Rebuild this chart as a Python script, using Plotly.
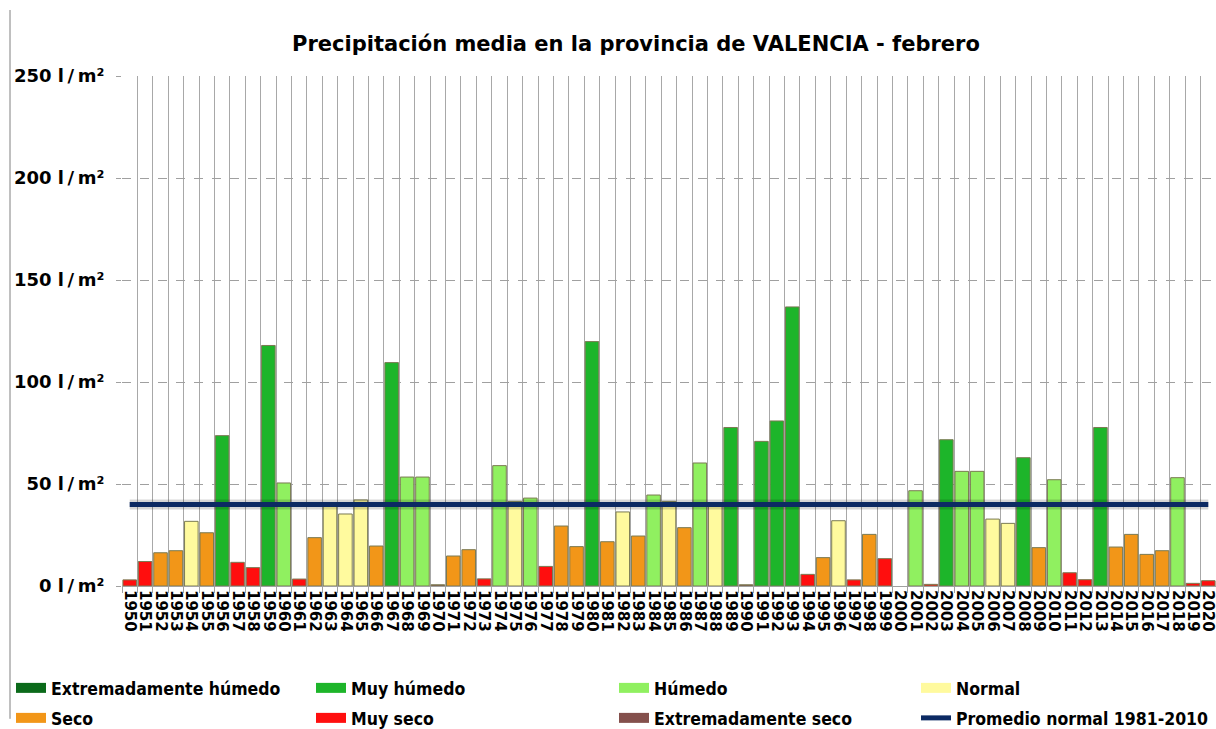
import plotly.graph_objects as go

years = list(range(1950, 2021))
values = [3, 12, 16.3, 17.3, 31.7, 26.1, 73.7, 11.6, 9.0, 117.9,
          50.5, 3.4, 23.7, 39.5, 35.3, 42.2, 19.6, 109.5, 53.4, 53.4,
          0.6, 14.7, 17.8, 3.5, 59.0, 41.5, 43.1, 9.6, 29.4, 19.3,
          119.8, 21.7, 36.3, 24.5, 44.6, 41.5, 28.6, 60.3, 39.8, 77.7,
          0.6, 70.9, 80.9, 136.8, 5.7, 13.9, 32.0, 3.0, 25.3, 13.4,
          None, 46.7, 0.8, 71.7, 56.2, 56.2, 32.8, 30.7, 62.9, 18.8,
          52.1, 6.5, 3.1, 77.7, 19.1, 25.3, 15.5, 17.3, 53.1, 1.3,
          2.6]
classes = ["MS", "MS", "S", "S", "N", "S", "MH", "MS", "MS", "MH",
           "H", "MS", "S", "N", "N", "N", "S", "MH", "H", "H",
           "ES", "S", "S", "MS", "H", "N", "H", "MS", "S", "S",
           "MH", "S", "N", "S", "H", "N", "S", "H", "N", "MH",
           "ES", "MH", "MH", "MH", "MS", "S", "N", "MS", "S", "MS",
           None, "H", "MS", "MH", "H", "H", "N", "N", "MH", "S",
           "H", "MS", "MS", "MH", "S", "S", "S", "S", "H", "MS",
           "MS"]
promedio = 40.0
promedio_name = "Promedio normal 1981-2010"

class_keys = ["EH", "MH", "H", "N", "S", "MS", "ES"]
class_names = {"EH": "Extremadamente húmedo", "MH": "Muy húmedo", "H": "Húmedo",
               "N": "Normal", "S": "Seco", "MS": "Muy seco", "ES": "Extremadamente seco"}
class_colors = {"EH": "#0b6a1a", "MH": "#1db52a", "H": "#90f060", "N": "#fffa9e",
                "S": "#f29618", "MS": "#ff0e0e", "ES": "#84504c"}
line_color = "#0c2a63"

y_ticks = [0, 50, 100, 150, 200, 250]
y_labels = [f"{v} l\u2009/\u2009m²" for v in y_ticks]

# legend layout: 4 columns x 2 rows (pixel positions in the page)
legend_cols = [11, 311, 614, 916]
legend_rows = [688, 718]

fig = go.Figure()
for k in class_keys:
    xs = [y for y, c in zip(years, classes) if c == k]
    vs = [v for v, c in zip(values, classes) if c == k]
    fig.add_trace(go.Bar(
        x=xs, y=vs, name=class_names[k], width=0.88, showlegend=False,
        marker=dict(color=class_colors[k], line=dict(color="#7a7a52", width=1)),
    ))

# shadow of the average line
fig.add_trace(go.Scatter(x=[years[0], years[-1]], y=[promedio, promedio], mode="lines",
                         line=dict(color="rgba(0,0,0,0.16)", width=10),
                         showlegend=False, hoverinfo="skip"))
fig.add_trace(go.Scatter(x=[years[0], years[-1]], y=[promedio, promedio], mode="lines",
                         name=promedio_name, showlegend=False,
                         line=dict(color=line_color, width=5)))

# legend entries (one small legend per entry, to reproduce the 4x2 grid)
legend_font = dict(family="DejaVu Sans Condensed, DejaVu Sans", size=17.5, color="#000000",
                   weight="bold")
entries = [(class_names[k], class_colors[k], 11) for k in class_keys] + \
          [(promedio_name, line_color, 5)]
legends = {}
for i, (name, color, w) in enumerate(entries):
    lid = "legend" if i == 0 else f"legend{i + 1}"
    fig.add_trace(go.Scatter(x=[None], y=[None], mode="lines", name=name,
                             line=dict(color=color, width=w), legend=lid,
                             hoverinfo="skip"))
    legends[lid] = dict(xref="container", yref="container",
                        x=legend_cols[i % 4] / 1216, y=1 - legend_rows[i // 4] / 729,
                        xanchor="left", yanchor="middle", font=legend_font,
                        bgcolor="rgba(0,0,0,0)", itemwidth=30)

fig.update_layout(
    width=1216, height=729,
    paper_bgcolor="white", plot_bgcolor="white",
    margin=dict(l=122, r=0, t=76, b=143, autoexpand=False),
    barmode="overlay",
    title=dict(text="<b>Precipitación media en la provincia de VALENCIA - febrero</b>",
               x=0.523, xref="container", xanchor="center", y=1 - 44 / 729, yanchor="middle",
               font=dict(family="DejaVu Sans", size=21, color="#000000")),
    xaxis=dict(type="linear", range=[1949.5, 2020.5], tickmode="array", automargin=False,
               tickvals=years, ticktext=[str(y) for y in years], tickangle=90,
               ticklabeloverflow="allow",
               tickfont=dict(family="DejaVu Sans", size=15, color="#000000", weight="bold"),
               showgrid=False, ticks="", showline=True, linecolor="#a0a0a0", linewidth=1,
               zeroline=False,
               minor=dict(tick0=1949.5, dtick=1, showgrid=True, gridcolor="#a8a8a8",
                          gridwidth=1, ticks="outside", ticklen=6, tickcolor="#a0a0a0")),
    yaxis=dict(range=[0, 250], tickmode="array", tickvals=y_ticks, ticktext=y_labels,
               automargin=False, ticklabelstandoff=8,
               tickfont=dict(family="DejaVu Sans", size=18, color="#000000", weight="bold"),
               showgrid=True, gridcolor="#a0a0a0", griddash="dash", gridwidth=1,
               zeroline=False, ticks="outside", ticklen=5, tickcolor="#a0a0a0",
               showline=False),
    **legends,
)

fig.add_shape(type="line", xref="paper", yref="paper",
              x0=-112 / 1094, x1=-112 / 1094, y0=-143 / 510 + 0.02, y1=1 + 66 / 510,
              line=dict(color="#808080", width=1))

fig.write_html("out.html", config={"displayModeBar": False},
               post_script="document.body.style.margin='0';document.body.style.overflow='hidden';")
